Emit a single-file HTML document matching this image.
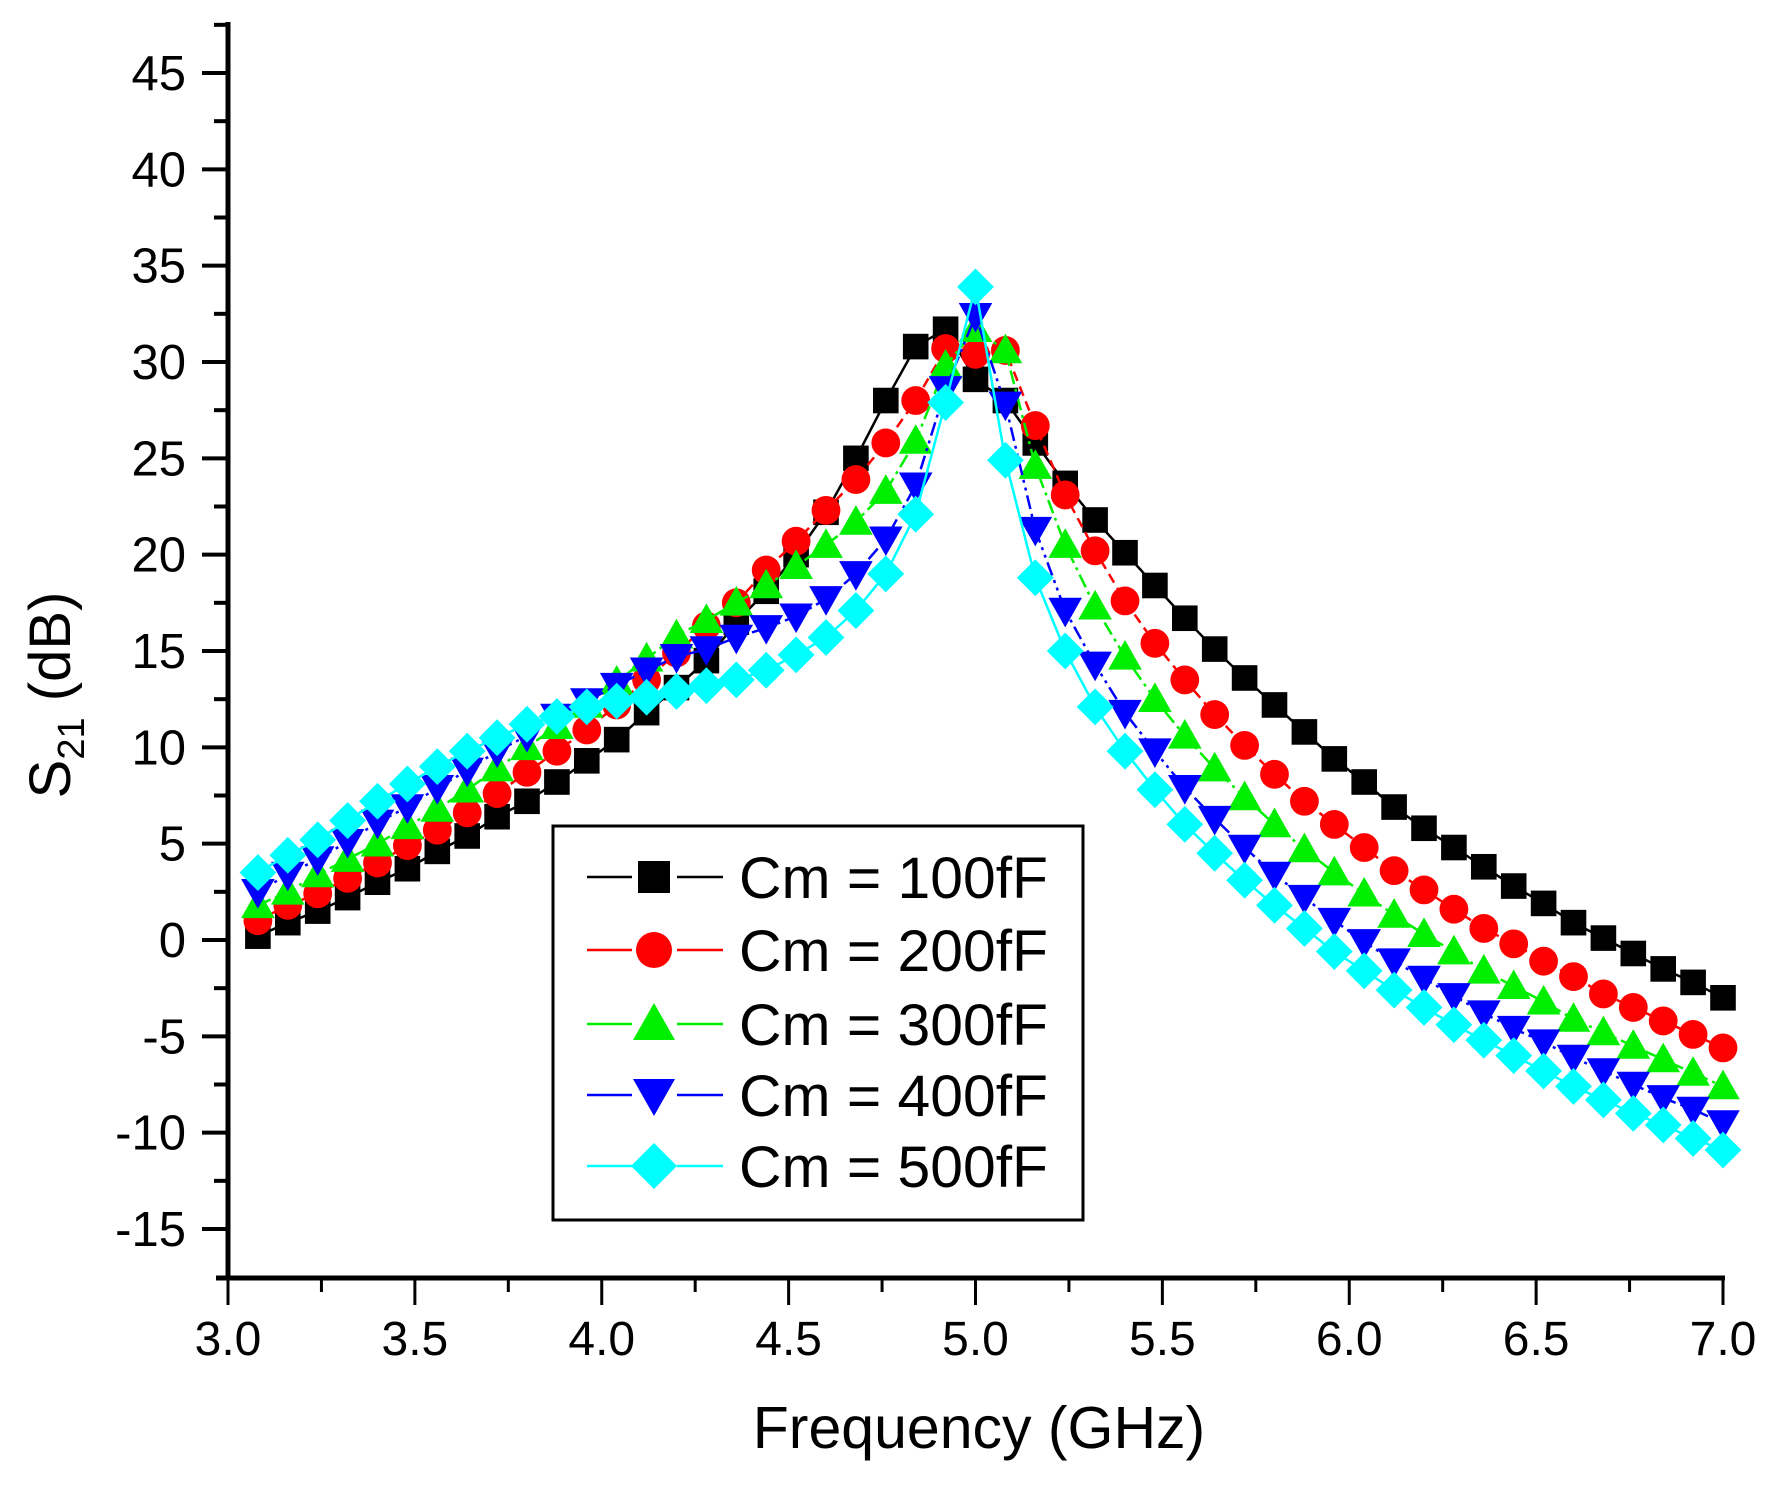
<!DOCTYPE html>
<html><head><meta charset="utf-8"><style>
html,body{margin:0;padding:0;background:#fff;}
svg{display:block;font-family:"Liberation Sans",Arial,sans-serif;}
</style></head><body>
<svg id="chart" width="1780" height="1493" viewBox="0 0 1780 1493" xmlns="http://www.w3.org/2000/svg">
<g id="axes"></g>
<g id="series"></g>
<g id="legend"></g>
</svg>
<script>
const freqStart = 3.08, freqStep = 0.08;
const cm100 = [0.2,0.9,1.5,2.2,3.0,3.7,4.6,5.4,6.4,7.2,8.2,9.3,10.4,11.8,13.1,14.5,16.5,18.1,20.0,22.2,25.0,28.0,30.8,31.7,29.1,28.0,25.8,23.7,21.8,20.1,18.4,16.7,15.1,13.6,12.2,10.8,9.4,8.2,6.9,5.8,4.8,3.8,2.8,1.9,0.9,0.1,-0.7,-1.5,-2.2,-3.0];
const cm200 = [1.0,1.8,2.4,3.2,4.0,4.9,5.7,6.6,7.6,8.7,9.8,10.9,12.2,13.5,14.9,16.3,17.5,19.2,20.7,22.3,23.9,25.8,28.0,30.7,30.4,30.6,26.7,23.1,20.2,17.6,15.4,13.5,11.7,10.1,8.6,7.2,6.0,4.8,3.6,2.6,1.6,0.6,-0.2,-1.1,-1.9,-2.8,-3.5,-4.2,-4.9,-5.6];
const cm300 = [1.8,2.5,3.4,4.2,5.0,5.9,6.8,7.8,8.9,10.0,11.1,12.2,13.4,14.6,15.8,16.6,17.5,18.4,19.4,20.5,21.7,23.3,25.9,29.8,31.7,30.6,24.6,20.5,17.3,14.7,12.5,10.6,8.9,7.4,6.0,4.7,3.5,2.4,1.3,0.3,-0.6,-1.6,-2.4,-3.2,-4.1,-4.8,-5.5,-6.2,-6.9,-7.6];
const cm400 = [2.5,3.4,4.2,5.1,6.1,6.9,7.9,8.8,9.8,10.6,11.6,12.4,13.2,14.0,14.7,15.1,15.7,16.2,16.8,17.7,19.0,20.8,23.6,28.6,32.4,27.8,21.3,17.1,14.3,11.8,9.8,7.9,6.3,4.8,3.4,2.2,1.0,-0.1,-1.1,-2.0,-2.9,-3.8,-4.6,-5.3,-6.1,-6.8,-7.5,-8.2,-8.8,-9.5];
const cm500 = [3.5,4.4,5.2,6.2,7.2,8.1,9.0,9.8,10.5,11.2,11.6,12.1,12.4,12.6,12.9,13.2,13.5,14.0,14.8,15.7,17.1,19.0,22.1,27.9,33.9,24.9,18.8,15.0,12.1,9.8,7.8,6.0,4.5,3.1,1.8,0.6,-0.6,-1.6,-2.6,-3.5,-4.4,-5.2,-6.0,-6.8,-7.6,-8.3,-9.0,-9.6,-10.3,-10.9];
const xTicks = ["3.0","3.5","4.0","4.5","5.0","5.5","6.0","6.5","7.0"];
const yTicks = ["-15","-10","-5","0","5","10","15","20","25","30","35","40","45"];
const seriesNames = ["Cm = 100fF","Cm = 200fF","Cm = 300fF","Cm = 400fF","Cm = 500fF"];

const NS="http://www.w3.org/2000/svg";
const X0=228, X1=1723, Y0=1278;
function xs(v){return X0+(v-3)*(X1-X0)/4;}
function ys(v){return 73+(45-v)*(1229-73)/60;}
function mk(tag,attrs,parent){const e=document.createElementNS(NS,tag);for(const k in attrs)e.setAttribute(k,attrs[k]);parent.appendChild(e);return e;}
const axes=document.getElementById('axes');

let l=mk('line',{x1:X0,y1:22,x2:X0,y2:Y0+2,stroke:'#000','stroke-width':5},axes);


l=mk('line',{x1:X0-12,y1:Y0,x2:X1+2,y2:Y0,stroke:'#000','stroke-width':5},axes);



for(let i=0;i<=16;i++){
  const v=3+i*0.25, x=xs(v), major=i%2===0;
  const t=mk('line',{x1:x,y1:Y0,x2:x,y2:Y0+(major?27:14),stroke:'#000','stroke-width':3},axes);
  
  
}
xTicks.forEach(s=>{
  const t=mk('text',{x:xs(parseFloat(s)),y:1355,'font-size':48,'text-anchor':'middle'},axes);
  t.textContent=s;
  
  
});
for(let v=-17.5;v<=47.5;v+=2.5){
  const major=Math.abs(v%5)<1e-6, y=ys(v);
  if(y>Y0-2||y<20)continue;
  const t=mk('line',{x1:X0,y1:y,x2:X0-(major?26:14),y2:y,stroke:'#000','stroke-width':4},axes);
  
  
}
yTicks.forEach(s=>{
  const t=mk('text',{x:186,y:ys(parseFloat(s))+17,'font-size':49,'text-anchor':'end'},axes);
  t.textContent=s;
  
  
});
let tt=mk('text',{x:979,y:1448,'font-size':59,'text-anchor':'middle'},axes);
tt.textContent='Frequency (GHz)';


tt=mk('text',{x:0,y:0,'font-size':58,'text-anchor':'middle',transform:'translate(70,695) rotate(-90)'},axes);
tt.innerHTML='S<tspan font-size="38" dy="14">21</tspan><tspan dy="-14"> (dB)</tspan>';



const colors=['#000000','#ff0000','#00ee00','#0000ff','#00ffff'];
const dashes=['none','10,6','14,5,3,5','14,5,3,5,3,5','none'];
const shapes=['square','circle','up','down','diamond'];
const data=[cm100,cm200,cm300,cm400,cm500];
function marker(shape,x,y,c,parent,k){
  if(shape==='square') return mk('rect',{x:x-16*k,y:y-16*k,width:32*k,height:32*k,fill:c},parent);
  if(shape==='circle') return mk('circle',{cx:x,cy:y,r:18*k,fill:c},parent);
  if(shape==='up') return mk('polygon',{points:`${x},${y-21*k} ${x-21*k},${y+16*k} ${x+21*k},${y+16*k}`,fill:c},parent);
  if(shape==='down') return mk('polygon',{points:`${x},${y+21*k} ${x-21*k},${y-16*k} ${x+21*k},${y-16*k}`,fill:c},parent);
  return mk('polygon',{points:`${x},${y-23*k} ${x+23*k},${y} ${x},${y+23*k} ${x-23*k},${y}`,fill:c},parent);
}
const sg=document.getElementById('series');
data.forEach((arr,si)=>{
  const g=mk('g',{},sg);
  
  
  const pts=arr.map((v,i)=>xs(freqStart+i*freqStep).toFixed(1)+','+ys(v).toFixed(1)).join(' ');
  const pl=mk('polyline',{points:pts,fill:'none',stroke:colors[si],'stroke-width':2.5,'stroke-dasharray':dashes[si]},g);
  
  
  arr.forEach((v,i)=>{
    const m=marker(shapes[si],xs(freqStart+i*freqStep),ys(v),colors[si],g,0.8);
    
    
  });
});

const lg=document.getElementById('legend');
const box=mk('rect',{x:553,y:826,width:530,height:394,fill:'#fff',stroke:'#000','stroke-width':3},lg);


const ly=[877,950,1024,1095,1166];
seriesNames.forEach((n,i)=>{
  const g=mk('g',{},lg);
  
  
  mk('line',{x1:587,y1:ly[i],x2:632,y2:ly[i],stroke:colors[i],'stroke-width':2.5},g);
  mk('line',{x1:677,y1:ly[i],x2:723,y2:ly[i],stroke:colors[i],'stroke-width':2.5},g);
  marker(shapes[i],654,ly[i],colors[i],g,1);
  const t=mk('text',{x:739,y:ly[i]+21,'font-size':58,textLength:309,lengthAdjust:'spacingAndGlyphs'},g);
  t.textContent=n;
});
</script>
</body></html>
